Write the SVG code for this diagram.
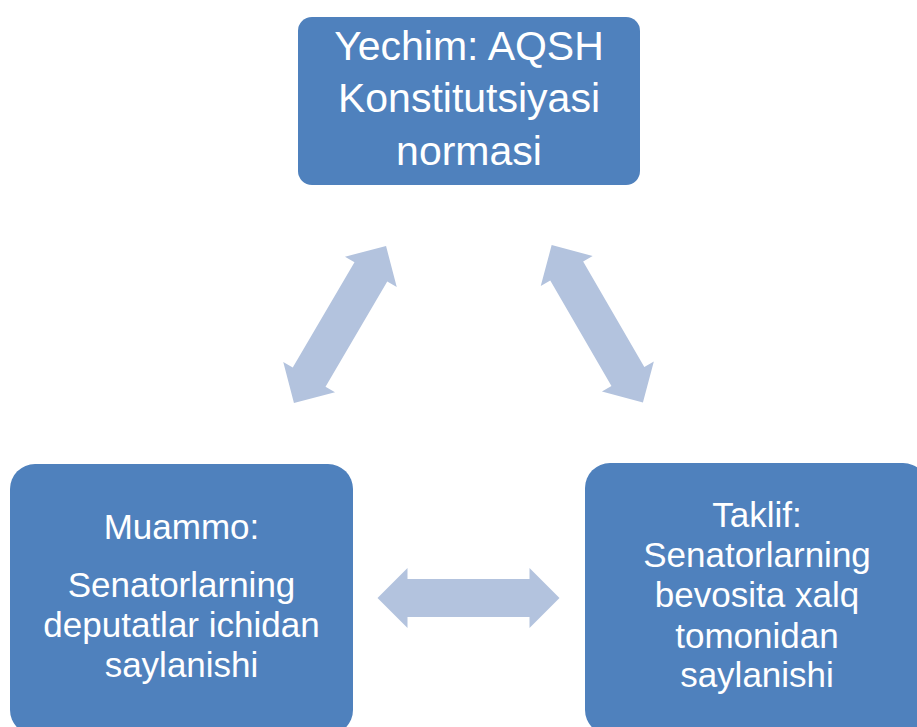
<svg xmlns="http://www.w3.org/2000/svg" width="917" height="727" viewBox="0 0 917 727">
<defs>
<style>
.box{fill:#4F81BD;}
.arr{fill:#B3C3DE;}
.t{font-family:"Liberation Sans",Arial,sans-serif;fill:#FFFFFF;text-anchor:middle;}
.t1{font-size:41px;}
.t2{font-size:35px;}
</style>
<polygon id="dbl" points="-91,0 -61,-30 -61,-19 61,-19 61,-30 91,0 61,30 61,19 -61,19 -61,30"/>
</defs>
<rect width="917" height="727" fill="#FFFFFF"/>
<g id="connectors">
<use href="#dbl" class="arr" transform="translate(340,324.5) rotate(-59.6)"/>
<use href="#dbl" class="arr" transform="translate(597.3,323.8) rotate(59.9)"/>
<use href="#dbl" class="arr" transform="translate(468.5,598)"/>
</g>
<g id="node-yechim">
<rect class="box" x="298" y="17" width="342" height="168" rx="14"/>
<text class="t t1" x="469" y="60">Yechim: AQSH</text>
<text class="t t1" x="469" y="112">Konstitutsiyasi</text>
<text class="t t1" x="469" y="165">normasi</text>
</g>
<g id="node-muammo">
<rect class="box" x="10" y="464" width="343" height="271" rx="25"/>
<text class="t t2" x="181.5" y="539">Muammo:</text>
<text class="t t2" x="181.5" y="597">Senatorlarning</text>
<text class="t t2" x="181.5" y="637">deputatlar ichidan</text>
<text class="t t2" x="181.5" y="677">saylanishi</text>
</g>
<g id="node-taklif">
<rect class="box" x="585" y="463" width="343" height="272" rx="25"/>
<text class="t t2" x="757" y="527">Taklif:</text>
<text class="t t2" x="757" y="567">Senatorlarning</text>
<text class="t t2" x="757" y="607">bevosita xalq</text>
<text class="t t2" x="757" y="648">tomonidan</text>
<text class="t t2" x="757" y="687">saylanishi</text>
</g>
</svg>
